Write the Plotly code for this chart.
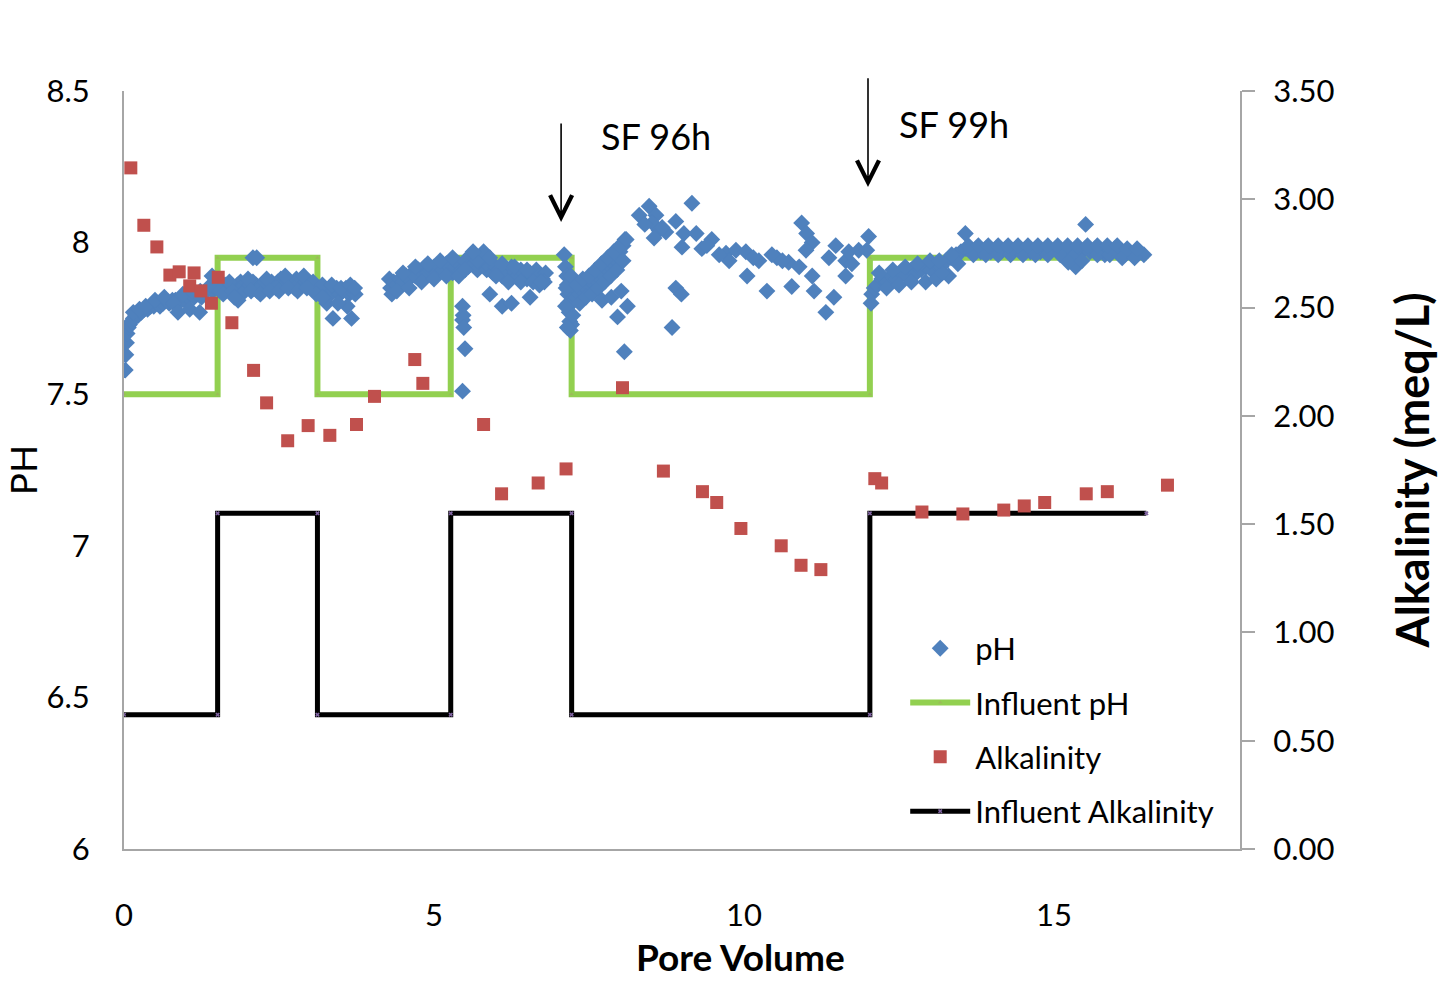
import plotly.graph_objects as go

# ---------------- data ----------------
# measured effluent pH (left axis)
ph_x = [
    # column 1 (0 - 3.75 PV)
    0.02, 0.03, 0.04, 0.05, 0.07, 0.09, 0.12, 0.15, 0.19, 0.23, 0.28, 0.33, 0.38, 0.43, 0.48, 0.53,
    0.58, 0.63, 0.68, 0.73, 0.78, 0.83, 0.88, 0.93, 0.98, 1.03, 1.08, 1.13, 1.18, 1.23, 1.28, 1.33,
    1.38, 1.43, 1.48, 1.53, 1.58, 1.63, 1.68, 1.73, 1.78, 1.83, 1.88, 1.93, 1.98, 2.03, 2.08, 2.13,
    2.18, 2.23, 2.28, 2.33, 2.38, 2.43, 2.48, 2.53, 2.58, 2.63, 2.68, 2.73, 2.78, 2.83, 2.88, 2.93,
    2.98, 3.03, 3.08, 3.13, 3.18, 3.23, 3.28, 3.33, 3.38, 3.43, 3.48, 3.53, 3.58, 3.63, 3.68, 3.73,
    0.15, 0.25, 0.35, 0.50, 0.65, 0.80, 0.95, 1.10, 1.25, 1.40, 1.55, 1.70, 1.85, 2.00, 2.15, 2.30,
    2.45, 2.60, 2.75, 2.90, 3.05, 3.20, 3.35, 3.50, 3.65, 3.72,
    1.60, 1.75, 1.90, 2.05, 2.20, 2.35, 2.50, 2.65, 2.80, 2.95, 3.10,
    0.87, 1.06, 1.22, 1.42, 1.84, 1.78, 2.08, 2.14, 3.27, 3.37, 3.60, 3.67, 3.20, 3.45,
    # column 2 (4.3 - 6.8 PV)
    4.28, 4.30, 4.32, 4.35, 4.40, 4.45, 4.50, 4.55, 4.60, 4.65, 4.70, 4.75, 4.80, 4.85, 4.90, 4.95,
    5.00, 5.05, 5.10, 5.15, 5.20, 5.25, 5.30, 5.35, 5.40, 5.45, 5.50, 5.55, 5.60, 5.65, 5.70, 5.75,
    5.80, 5.85, 5.90, 5.95, 6.00, 6.05, 6.10, 6.15, 6.20, 6.25, 6.30, 6.35, 6.40, 6.45, 6.50, 6.55,
    6.60, 6.65, 6.70, 6.75, 6.80,
    4.40, 4.50, 4.60, 4.70, 4.80, 4.90, 5.00, 5.10, 5.20, 5.30, 5.40, 5.50, 5.70, 5.80, 5.90, 6.00,
    6.10, 6.20, 6.30, 6.40, 6.50, 6.60, 6.70, 6.78,
    5.46, 5.47, 5.46, 5.50, 5.46, 5.48, 5.63, 5.90, 6.10, 6.25, 6.55, 6.73,
    # SF 96h disturbance (7.1 - 8.1 PV)
    7.10, 7.12, 7.14, 7.15, 7.16, 7.17, 7.18, 7.19, 7.20, 7.22, 7.24, 7.22, 7.25, 7.23, 7.21, 7.13,
    7.12, 7.15,
    7.30, 7.35, 7.40, 7.45, 7.50, 7.55, 7.60, 7.65, 7.70, 7.75, 7.80, 7.85, 7.90, 7.95, 8.00, 8.05,
    8.08, 7.30, 7.40, 7.50, 7.60, 7.70, 7.80, 7.90, 8.00, 8.10,
    7.35, 7.45, 7.55, 7.65, 7.75, 7.85, 7.95, 8.05,
    7.71, 7.86, 8.02, 7.96, 8.12, 8.07,
    # 8.3 - 12 PV
    8.31, 8.47, 8.58, 8.52, 8.63, 8.74, 8.55, 8.90, 9.16, 9.03, 9.00, 9.23, 8.90, 8.99, 8.84, 9.32,
    9.48, 9.71, 9.76, 9.87, 10.03, 10.05, 10.24, 10.37, 10.53, 10.72, 10.77, 10.89, 10.93, 11.01,
    11.10, 11.00, 11.10, 11.13, 11.32, 11.45, 11.37, 11.48, 11.64, 11.64, 11.74, 11.69, 11.85, 12.01,
    11.98, 8.40, 8.68, 9.40, 9.60, 10.15, 10.45, 10.62,
    # column 3 (12.05 - 16.45 PV)
    12.05, 12.06, 12.10, 12.15, 12.22, 12.30, 12.38, 12.46, 12.54, 12.62, 12.70, 12.78, 12.86, 12.94,
    13.02, 13.10, 13.18, 13.26, 13.34, 13.42, 13.50, 13.57, 13.58, 13.66, 13.74, 13.82, 13.90, 13.98,
    14.06, 14.14, 14.22, 14.30, 14.38, 14.46, 14.54, 14.62, 14.70, 14.78, 14.86, 14.94, 15.02, 15.10,
    15.18, 15.26, 15.34, 15.42, 15.50, 15.58, 15.66, 15.74, 15.82, 15.90, 15.98, 16.06, 16.14, 16.22,
    16.30, 16.38, 16.45,
    12.30, 12.50, 12.70, 12.93, 13.10, 13.30, 13.20, 13.45, 13.70, 13.90, 14.10, 14.30, 14.50, 14.70,
    14.90, 15.10, 15.30, 15.70, 15.90, 16.10, 16.30,
    13.62, 13.78, 13.94, 14.10, 14.26, 14.42, 14.58, 14.74, 14.90, 15.06, 15.22, 15.38, 15.54, 15.70,
    15.86, 16.02, 16.18, 16.34,
    12.18, 12.40, 12.60, 12.80, 13.00, 13.15, 13.35,
    15.51, 15.35, 15.23, 15.45,
]
ph_y = [
    7.58, 7.63, 7.67, 7.70, 7.72, 7.73, 7.74, 7.75, 7.76, 7.76, 7.77, 7.78, 7.78, 7.79, 7.79, 7.80,
    7.79, 7.80, 7.81, 7.80, 7.81, 7.81, 7.80, 7.82, 7.81, 7.82, 7.83, 7.82, 7.83, 7.84, 7.83, 7.84,
    7.85, 7.84, 7.85, 7.86, 7.85, 7.86, 7.85, 7.86, 7.85, 7.86, 7.87, 7.86, 7.85, 7.86, 7.87, 7.86,
    7.85, 7.86, 7.87, 7.86, 7.87, 7.86, 7.87, 7.88, 7.87, 7.88, 7.87, 7.86, 7.88, 7.87, 7.86, 7.87,
    7.86, 7.85, 7.86, 7.85, 7.84, 7.85, 7.84, 7.83, 7.84, 7.85, 7.83, 7.84, 7.85, 7.83, 7.84, 7.83,
    7.77, 7.78, 7.79, 7.81, 7.82, 7.80, 7.83, 7.84, 7.82, 7.86, 7.84, 7.87, 7.84, 7.88, 7.84, 7.88,
    7.85, 7.89, 7.85, 7.89, 7.87, 7.86, 7.86, 7.85, 7.86, 7.85,
    7.83, 7.84, 7.83, 7.84, 7.83, 7.84, 7.84, 7.85, 7.84, 7.85, 7.83,
    7.77, 7.78, 7.77, 7.89, 7.81, 7.82, 7.95, 7.95, 7.80, 7.75, 7.79, 7.75, 7.82, 7.80,
    7.88, 7.85, 7.83, 7.87, 7.86, 7.88, 7.87, 7.89, 7.88, 7.90, 7.89, 7.91, 7.90, 7.92, 7.90, 7.91,
    7.92, 7.90, 7.92, 7.91, 7.93, 7.92, 7.90, 7.92, 7.93, 7.91, 7.94, 7.92, 7.96, 7.93, 7.91, 7.95,
    7.93, 7.91, 7.92, 7.90, 7.92, 7.91, 7.89, 7.91, 7.90, 7.92, 7.90, 7.89, 7.91, 7.90, 7.88, 7.90,
    7.89, 7.91, 7.89, 7.88, 7.90,
    7.84, 7.90, 7.85, 7.92, 7.87, 7.93, 7.88, 7.94, 7.89, 7.95, 7.89, 7.91, 7.94, 7.97, 7.95, 7.89,
    7.93, 7.87, 7.92, 7.87, 7.91, 7.87, 7.86, 7.87,
    7.79, 7.76, 7.745, 7.65, 7.51, 7.72, 7.97, 7.83, 7.79, 7.80, 7.82, 7.87,
    7.96, 7.92, 7.89, 7.86, 7.83, 7.80, 7.77, 7.74, 7.71, 7.73, 7.76, 7.80, 7.83, 7.86, 7.89, 7.85,
    7.79, 7.72,
    7.82, 7.83, 7.84, 7.85, 7.86, 7.87, 7.88, 7.89, 7.90, 7.92, 7.93, 7.94, 7.95, 7.96, 7.97, 7.99,
    8.01, 7.86, 7.88, 7.89, 7.91, 7.93, 7.95, 7.97, 7.99, 8.01,
    7.80, 7.82, 7.83, 7.85, 7.87, 7.89, 7.91, 7.94,
    7.81, 7.82, 7.84, 7.755, 7.79, 7.64,
    8.09, 8.12, 8.09, 8.065, 8.04, 8.035, 8.015, 8.07, 8.13, 8.03, 7.985, 8.03, 7.85, 7.83, 7.72, 7.98,
    8.01, 7.965, 7.94, 7.975, 7.97, 7.89, 7.94, 7.84, 7.95, 7.935, 7.855, 7.92, 8.065, 8.03,
    8.00, 7.975, 7.89, 7.84, 7.77, 7.82, 7.95, 7.99, 7.94, 7.89, 7.93, 7.97, 7.975, 8.02,
    7.975, 8.06, 8.05, 7.99, 7.96, 7.95, 7.96, 7.94,
    7.80, 7.83, 7.85, 7.86, 7.88, 7.87, 7.89, 7.88, 7.90, 7.89, 7.91, 7.90, 7.91, 7.92,
    7.91, 7.93, 7.92, 7.94, 7.95, 7.96, 7.97, 8.03, 7.98, 7.97, 7.98, 7.97, 7.98, 7.97,
    7.98, 7.97, 7.98, 7.97, 7.98, 7.97, 7.98, 7.97, 7.98, 7.97, 7.98, 7.97, 7.98, 7.97,
    7.98, 7.97, 7.96, 7.97, 7.98, 7.97, 7.98, 7.97, 7.96, 7.97, 7.98, 7.97, 7.96, 7.97,
    7.96, 7.97, 7.96,
    7.85, 7.86, 7.87, 7.87, 7.88, 7.89, 7.90, 7.93, 7.96, 7.96, 7.96, 7.96, 7.96, 7.96,
    7.96, 7.96, 7.95, 7.96, 7.96, 7.95, 7.95,
    7.99, 7.99, 7.99, 7.99, 7.99, 7.99, 7.99, 7.99, 7.99, 7.99, 7.99, 7.99, 7.99, 7.99,
    7.99, 7.99, 7.98, 7.98,
    7.90, 7.91, 7.92, 7.93, 7.94, 7.94, 7.96,
    8.06, 7.92, 7.935, 7.94,
]

# influent pH (left axis), step changes
inf_ph_x = [0, 1.51, 1.51, 3.12, 3.12, 5.27, 5.27, 7.22, 7.22, 12.03, 12.03, 16.49]
inf_ph_y = [7.5, 7.5, 7.95, 7.95, 7.5, 7.5, 7.95, 7.95, 7.5, 7.5, 7.95, 7.95]

# measured alkalinity (right axis, meq/L)
alk_x = [0.11, 0.32, 0.53, 0.74, 0.89, 1.13, 1.06, 1.24, 1.41, 1.52, 1.74, 2.09, 2.30, 2.64, 2.97,
         3.32, 3.75, 4.04, 4.69, 4.82, 5.80, 6.09, 6.68, 7.13, 8.04, 8.70, 9.33, 9.56, 9.95, 10.60,
         10.92, 11.24, 12.11, 12.22, 12.87, 13.53, 14.19, 14.52, 14.85, 15.52, 15.86, 16.83]
alk_y = [3.145, 2.88, 2.78, 2.65, 2.665, 2.66, 2.60, 2.577, 2.52, 2.64, 2.43, 2.21, 2.06, 1.885, 1.955,
         1.91, 1.96, 2.09, 2.26, 2.15, 1.96, 1.64, 1.69, 1.755, 2.13, 1.745, 1.65, 1.60, 1.48, 1.40,
         1.31, 1.29, 1.71, 1.69, 1.556, 1.547, 1.565, 1.584, 1.60, 1.64, 1.65, 1.68]

# influent alkalinity (right axis), step changes
inf_alk_x = [0, 1.51, 1.51, 3.12, 3.12, 5.27, 5.27, 7.22, 7.22, 12.03, 12.03, 16.49]
inf_alk_y = [0.62, 0.62, 1.55, 1.55, 0.62, 0.62, 1.55, 1.55, 0.62, 0.62, 1.55, 1.55]

x_ticks = [0, 5, 10, 15]
ph_ticks = [6, 6.5, 7, 7.5, 8, 8.5]
alk_ticks = [0, 0.5, 1.0, 1.5, 2.0, 2.5, 3.0, 3.5]

FONT = "Lato"
AXC = "#A6A6A6"

fig = go.Figure()

fig.add_trace(go.Scatter(
    x=inf_ph_x, y=inf_ph_y, name="Influent pH", mode="lines+markers",
    line=dict(color="#92D050", width=6),
    marker=dict(symbol="triangle-up", size=4, color="#9BBB59"),
    legendrank=2, legendgroup="g2", yaxis="y"))
fig.add_trace(go.Scatter(
    x=ph_x, y=ph_y, name="pH", mode="markers",
    marker=dict(symbol="diamond", size=13, color="#4F81BD"),
    legendrank=1, legendgroup="g1", yaxis="y"))
fig.add_trace(go.Scatter(
    x=inf_alk_x, y=inf_alk_y, name="Influent Alkalinity", mode="lines+markers",
    line=dict(color="#000000", width=5),
    marker=dict(symbol="x", size=4, color="#8064A2"),
    legendrank=4, legendgroup="g4", yaxis="y2"))
fig.add_trace(go.Scatter(
    x=alk_x, y=alk_y, name="Alkalinity", mode="markers",
    marker=dict(symbol="square", size=13, color="#C0504D"),
    legendrank=3, legendgroup="g3", yaxis="y2"))

fig.update_layout(
    width=1449, height=986,
    margin=dict(l=124, r=209, t=91, b=137, autoexpand=False),
    paper_bgcolor="white", plot_bgcolor="white",
    font=dict(family=FONT, size=31, color="#000000"),
    showlegend=True,
    legend=dict(x=0.70, y=0.30, xanchor="left", yanchor="top",
                font=dict(family=FONT, size=31, color="#000000"),
                bgcolor="rgba(0,0,0,0)", tracegroupgap=11, itemwidth=60),
    xaxis=dict(range=[0, 18], tickvals=x_ticks, showline=True, linecolor=AXC, linewidth=2,
               ticks="", showgrid=False, zeroline=False, ticklabelstandoff=38, automargin=False,
               tickfont=dict(family=FONT, size=31)),
    yaxis=dict(range=[6, 8.5], tickvals=ph_ticks, showline=True, linecolor=AXC, linewidth=2,
               ticks="", showgrid=False, zeroline=False, ticklabelstandoff=26, automargin=False,
               tickfont=dict(family=FONT, size=31),
               title=dict(text="PH", font=dict(family=FONT, size=37), standoff=18)),
    yaxis2=dict(range=[0, 3.5], tickvals=alk_ticks, tickformat=".2f", overlaying="y", side="right",
                showline=True, linecolor=AXC, linewidth=2, ticks="outside", ticklen=13,
                tickcolor=AXC, tickwidth=2, showgrid=False, zeroline=False, ticklabelstandoff=12,
                automargin=False, tickfont=dict(family=FONT, size=31),
                title=dict(text="<b>Alkalinity (meq/L)</b>", font=dict(family=FONT, size=45),
                           standoff=64)),
)

# x-axis title (offset to the right of the plot centre, as in the original)
fig.add_annotation(x=0.552, y=-0.142, xref="paper", yref="paper", text="<b>Pore Volume</b>",
                   showarrow=False, xanchor="center", yanchor="middle",
                   font=dict(family=FONT, size=37, color="#000000"))

# arrows marking the SF events
fig.add_annotation(x=7.05, y=8.068, ax=7.05, ay=8.398, xref="x", yref="y", axref="x", ayref="y",
                   showarrow=True, arrowhead=5, arrowwidth=1.6, arrowsize=2.7, arrowcolor="#000000",
                   text="")
fig.add_annotation(x=12.0, y=8.183, ax=12.0, ay=8.547, xref="x", yref="y", axref="x", ayref="y",
                   showarrow=True, arrowhead=5, arrowwidth=1.6, arrowsize=2.7, arrowcolor="#000000",
                   text="")
fig.add_annotation(x=8.58, y=8.35, xref="x", yref="y", text="SF 96h", showarrow=False,
                   font=dict(family=FONT, size=36, color="#000000"))
fig.add_annotation(x=13.38, y=8.39, xref="x", yref="y", text="SF 99h", showarrow=False,
                   font=dict(family=FONT, size=36, color="#000000"))

fig.write_html("out.html")
